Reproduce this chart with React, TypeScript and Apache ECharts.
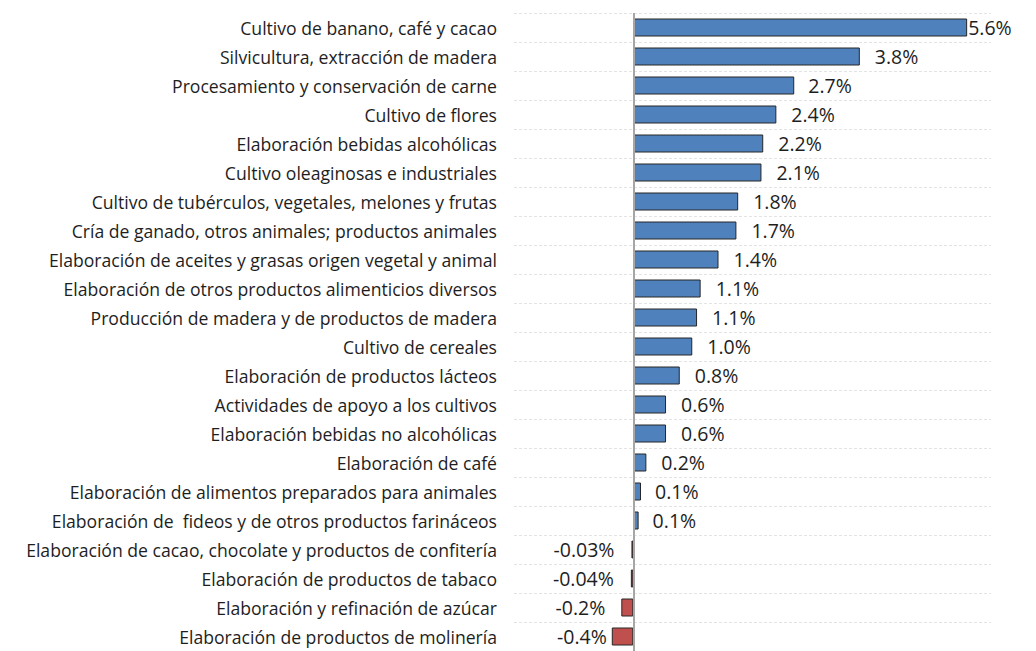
import React, { useEffect, useRef } from "react";
import * as echarts from "echarts";

const categories = [
  "Cultivo de banano, café y cacao",
  "Silvicultura, extracción de madera",
  "Procesamiento y conservación de carne",
  "Cultivo de flores",
  "Elaboración bebidas alcohólicas",
  "Cultivo oleaginosas e industriales",
  "Cultivo de tubérculos, vegetales, melones y frutas",
  "Cría de ganado, otros animales; productos animales",
  "Elaboración de aceites y grasas origen vegetal y animal",
  "Elaboración de otros productos alimenticios diversos",
  "Producción de madera y de productos de madera",
  "Cultivo de cereales",
  "Elaboración de productos lácteos",
  "Actividades de apoyo a los cultivos",
  "Elaboración bebidas no alcohólicas",
  "Elaboración de café",
  "Elaboración de alimentos preparados para animales",
  "Elaboración de  fideos y de otros productos farináceos",
  "Elaboración de cacao, chocolate y productos de confitería",
  "Elaboración de productos de tabaco",
  "Elaboración y refinación de azúcar",
  "Elaboración de productos de molinería",
];

const values = [
  5.6, 3.8, 2.7, 2.4, 2.18, 2.15, 1.76, 1.73, 1.43, 1.13, 1.07, 0.99, 0.78,
  0.55, 0.55, 0.22, 0.13, 0.09, -0.03, -0.04, -0.2, -0.36,
];

const valueLabels = [
  "5.6%", "3.8%", "2.7%", "2.4%", "2.2%", "2.1%", "1.8%", "1.7%", "1.4%",
  "1.1%", "1.1%", "1.0%", "0.8%", "0.6%", "0.6%", "0.2%", "0.1%", "0.1%",
  "-0.03%", "-0.04%", "-0.2%", "-0.4%",
];

const labelGaps = [
  1, 15, 14, 15, 15, 15, 15, 15, 15, 15, 15, 15, 15, 15, 15, 15, 14, 14, 17,
  17, 16, 5,
];

export default function App() {
  const ref = useRef<HTMLDivElement>(null);
  useEffect(() => {
    if (!ref.current) return;
    const chart = echarts.init(ref.current, undefined, { renderer: "svg" });
    const data = values.map((v, i) => ({
      value: v,
      itemStyle: { color: v >= 0 ? "#4f81bd" : "#c0504d" },
      label: {
        position: v >= 0 ? "right" : "left",
        distance: labelGaps[i],
      },
    }));
    chart.setOption({
      animation: false,
      backgroundColor: "#ffffff",
      grid: { left: 514, right: 45, top: 13, bottom: 0, containLabel: false },
      xAxis: {
        type: "value",
        min: -2,
        max: 6,
        show: false,
      },
      yAxis: {
        type: "category",
        data: categories,
        inverse: true,
        axisLine: { show: false },
        axisTick: { show: false },
        axisLabel: {
          margin: 17,
          color: "#1e1e1e",
          fontFamily: "Open Sans",
          fontSize: 17.6,
        },
        splitLine: {
          show: true,
          interval: 0,
          lineStyle: { color: "#e3e3e3", type: [3, 2], width: 1 },
        },
      },
      series: [
        {
          type: "bar",
          data,
          barWidth: 18,
          itemStyle: { borderColor: "#262626", borderWidth: 1 },
          label: {
            show: true,
            color: "#1e1e1e",
            fontFamily: "Open Sans",
            fontSize: 19.5,
            formatter: (p: any) => valueLabels[p.dataIndex],
          },
          markLine: {
            silent: true,
            symbol: "none",
            label: { show: false },
            lineStyle: { color: "#a6a6a6", type: "solid", width: 2 },
            data: [{ xAxis: 0 }],
          },
        },
      ],
    });
    return () => chart.dispose();
  }, []);
  return (
    <div
      ref={ref}
      style={{ position: "fixed", left: 0, top: 0, width: 1036, height: 651 }}
    />
  );
}
